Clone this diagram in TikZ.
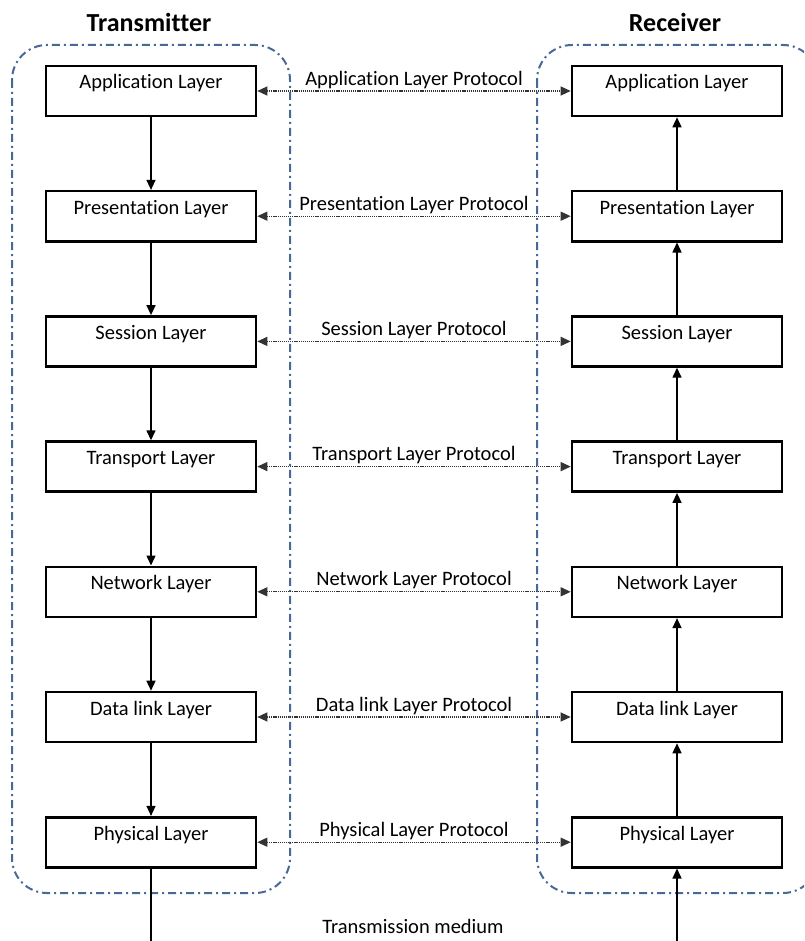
\documentclass[tikz,border=0pt]{standalone}
\usepackage{fontspec}
\setmainfont{Carlito}[Ligatures=NoCommon]
\usetikzlibrary{arrows.meta}
\definecolor{frameblue}{RGB}{72,104,150}
\begin{document}
\begin{tikzpicture}[x=1pt,y=-1pt,
  layer/.style={draw, line width=2.6pt, minimum width=210pt, minimum height=50pt, inner sep=0pt,
    text height=14pt, text depth=18pt, font=\fontsize{20.5}{22}\selectfont},
  flow/.style={line width=1.4pt, -{Triangle[length=10pt,width=9pt]}},
  proto/.style={line width=1.2pt, dash pattern=on 1.2pt off 0.9pt, draw=black!80,
    {Triangle[length=10pt,width=9pt]}-{Triangle[length=10pt,width=9pt]}},
  plabel/.style={font=\fontsize{20.5}{22}\selectfont, inner sep=2pt},
  frame/.style={draw=frameblue, line width=2pt, rounded corners=35pt,
    dash pattern=on 8pt off 4pt on 2pt off 4pt},
  titlestyle/.style={font=\fontsize{26}{30}\selectfont\bfseries}
]
\useasboundingbox (0,0) rectangle (804,941);
\clip (0,0) rectangle (804,941);
\draw[frame] (12,45) rectangle (290,893);
\draw[frame] (537,45) rectangle (818,893);
\node[titlestyle] (ttx) at (149,22) {Transmitter};
\node[titlestyle] (trx) at (675,22) {Receiver};
\foreach \n/\t [count=\i from 0] in {app/Application, pres/Presentation, sess/Session, trans/Transport, net/Network, dl/Data link, phy/Physical}{
  \node[layer] (L\n) at (151,91+125.2*\i) {\t\ Layer};
  \node[layer] (R\n) at (677,91+125.2*\i) {\t\ Layer};
  \draw[proto] (L\n) -- node[plabel, above] {\t\ Layer Protocol} (R\n);
}
\foreach \a/\b in {app/pres, pres/sess, sess/trans, trans/net, net/dl, dl/phy}{
  \draw[flow] (L\a) -- (L\b);
  \draw[flow] (R\b) -- (R\a);
}
\coordinate (Lbot) at (151,941);
\coordinate (Rbot) at (677,941);
\draw[line width=1.4pt] (Lphy) -- (Lbot);
\draw[flow] (Rbot) -- (Rphy);
\node[plabel] (med) at (413,926) {Transmission medium};
\end{tikzpicture}
\end{document}
